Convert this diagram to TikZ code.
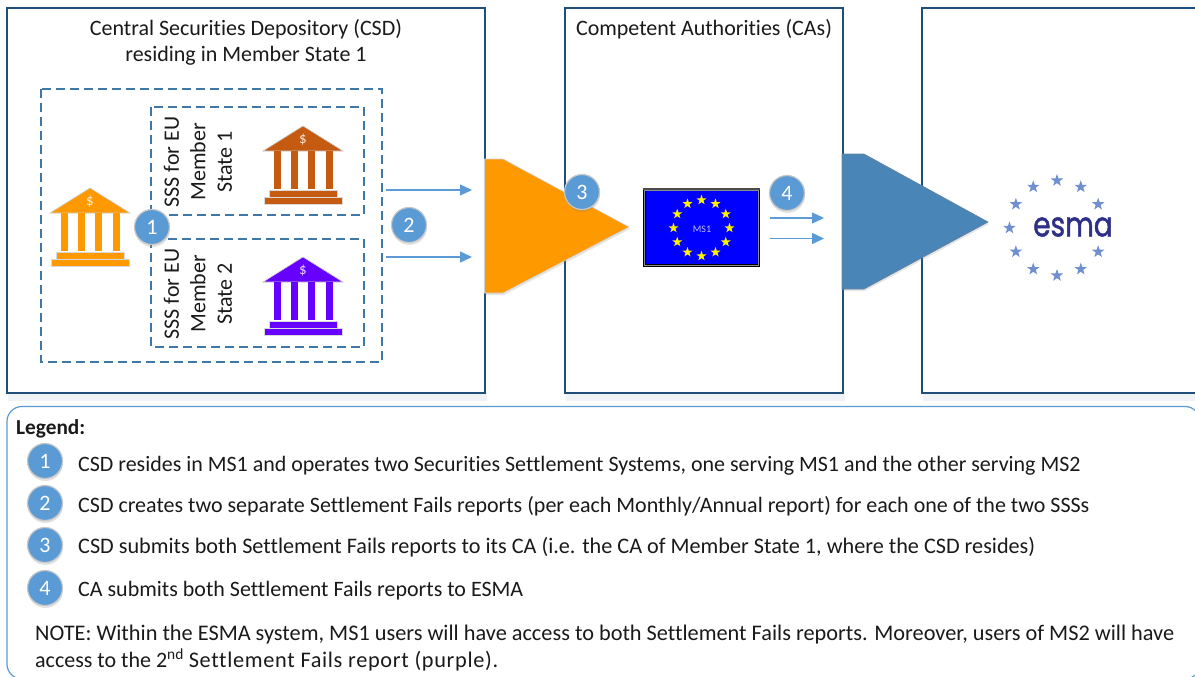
\documentclass[tikz,border=0pt]{standalone}
\usepackage{fontspec}
\usepackage{graphicx}
\setmainfont{Carlito}[Ligatures=NoCommon]
\newfontfamily\esmafont{Poppins}[FakeBold=1.6]
\usetikzlibrary{shapes.geometric,shadows,arrows.meta}
\definecolor{boxblue}{HTML}{1F4E79}
\definecolor{dashblue}{HTML}{3F78A8}
\definecolor{arrowblue}{HTML}{5B9BD5}
\definecolor{bankorange}{HTML}{FF9900}
\definecolor{bankbrown}{HTML}{C55A11}
\definecolor{bankpurple}{HTML}{6600FF}
\definecolor{pentblue}{HTML}{4A85B8}
\definecolor{esmastar}{HTML}{6F8FCF}
\definecolor{esmanavy}{HTML}{2E2F86}
\definecolor{txt}{HTML}{1A1A1A}
\newcommand{\fs}[1]{\fontsize{#1}{#1}\selectfont}
\tikzset{
  x=1pt,y=-1pt,
  outerbox/.style={draw=boxblue,line width=2.4pt,fill=white},
  boxshade/.style={fill=boxblue!7},
  dashbox/.style={draw=dashblue,line width=1.5pt,dash pattern=on 9pt off 5pt},
  report/.style={draw=arrowblue,line width=1.3pt,-{Triangle[length=12pt,width=11pt]}},
  badge/.style={circle,fill=arrowblue,draw=black!22,line width=1.2pt,minimum size=35pt,inner sep=0pt,
    text=white,font=\fs{22},drop shadow={shadow xshift=0.5pt,shadow yshift=-2.5pt,opacity=.22}},
  legtext/.style={anchor=base west,inner sep=0pt,text=txt,font=\fs{22}},
  title/.style={align=center,inner sep=0pt,text=txt,font=\fontsize{22}{26}\selectfont},
  ssslabel/.style={rotate=90,align=center,inner sep=0pt,text=txt,font=\fontsize{22}{26.5}\selectfont},
  flagstar/.style={star,star points=5,star point ratio=2.5,fill=yellow,inner sep=0pt,minimum size=10.5pt},
  estar/.style={star,star points=5,star point ratio=2.5,fill=esmastar,inner sep=0pt,minimum size=13pt},
  pent/.style={drop shadow={shadow xshift=1pt,shadow yshift=-2pt,opacity=.2}},
}
\newcommand{\bankicon}[4]{%
  \begin{scope}[shift={(#2,#3)}]
    \fill[#4,draw=black!20,line width=.6pt] (0,0) -- (40,25) -- (-40,25) -- cycle;
    \foreach \c in {-29,-12,5,23} \fill[#4] (\c,25) rectangle (\c+6.5,63);
    \fill[#4,draw=black!15,line width=.4pt] (-34,64.5) rectangle (34,71);
    \fill[#4,draw=black!15,line width=.4pt] (-39,71.5) rectangle (39,78);
    \node[text=white!85!#4,inner sep=0pt,font=\fs{15}] (#1) at (0,14) {\$};
  \end{scope}}
\begin{document}
\begin{tikzpicture}
\useasboundingbox (0,0) rectangle (1195,677);
\clip (0,0) rectangle (1195,677);
\fill[white] (0,0) rectangle (1195,677);
% soft band under the outer boxes
\fill[boxshade] (8,393) rectangle (487,401);
\fill[boxshade] (566,393) rectangle (845,401);
\fill[boxshade] (923,393) rectangle (1195,401);
% outer boxes
\draw[outerbox] (7,8) rectangle (485,393);
\draw[outerbox] (565,8) rectangle (843,393);
\draw[outerbox] (922,8) rectangle (1205,393);
\node[title] (csdtitle) at (246,42) {Central Securities Depository (CSD)\\residing in Member State 1};
\node[title] (catitle) at (704,29) {Competent Authorities (CAs)};
% dashed boxes
\draw[dashbox] (41,89) rectangle (382,362);
\draw[dashbox] (151,107) rectangle (364,215);
\draw[dashbox] (151,239) rectangle (364,347);
\node[ssslabel] (sss1) at (198,162) {SSS for EU\\Member\\State 1};
\node[ssslabel] (sss2) at (198,294) {SSS for EU\\Member\\State 2};
\bankicon{bankcsd}{90}{188}{bankorange}
\bankicon{bankone}{303}{126}{bankbrown}
\bankicon{banktwo}{303}{257}{bankpurple}
% report arrows
\coordinate (a1s) at (386,190); \coordinate (a1e) at (472,190);
\coordinate (a2s) at (386,257); \coordinate (a2e) at (472,257);
\draw[report] (a1s) -- (a1e);
\draw[report] (a2s) -- (a2e);
\coordinate (a3s) at (770,218); \coordinate (a3e) at (824,218);
\coordinate (a4s) at (770,238.5); \coordinate (a4e) at (824,238.5);
\draw[report] (a3s) -- (a3e);
\draw[report] (a4s) -- (a4e);
% pentagons
\path[pent,fill=bankorange,draw=black!18,line width=.6pt] (484.5,159) -- (503,159) -- (629,227) -- (503,293) -- (484.5,293) -- cycle;
\path[pent,fill=pentblue,draw=boxblue!70,line width=.6pt] (842,154) -- (864,154) -- (988,222) -- (864,289) -- (842,289) -- cycle;
% flag
\fill[black] (643.3,188.3) rectangle (760,266.7);
\fill[black!70] (643.3,188.3) rectangle (760,190);
\draw[black!45,line width=.7pt] (644.7,190.2) rectangle (758.4,265.4);
\node[fill=blue,minimum width=111.6pt,minimum height=73.6pt,inner sep=0pt] (flag) at (701.5,227.5) {};
\node[text=white!75!blue,inner sep=0pt,font=\fs{10}] (ms) at (702,229) {MS1};
\begin{scope}[shift={(701.5,228)}]
  \foreach \a in {0,30,...,330} \node[flagstar] (fs\a) at (\a:28) {};
\end{scope}
% ESMA logo
\begin{scope}[shift={(1057,228)}]
  \foreach \a in {30,60,...,330} \node[estar] (es\a) at (\a:47.5) {};
\end{scope}
\node[inner sep=0pt,text=esmanavy,font=\esmafont\fs{34}] (esma) at (1073,227) {\scalebox{0.82}[1]{esma}};
% badges
\node[badge] (b1) at (152,227) {1};
\node[badge] (b2) at (409,225) {2};
\node[badge] (b3) at (582,192) {3};
\node[badge] (b4) at (787,193) {4};
% legend
\draw[draw=arrowblue,line width=1.2pt,rounded corners=15pt,fill=white] (7,406.5) rectangle (1200,679);
\node[legtext,font=\bfseries\fs{21.3}] (legend) at (16,434) {Legend:};
\node[badge] (l1) at (45,461) {1};
\node[badge] (l2) at (45,503) {2};
\node[badge] (l3) at (45,545) {3};
\node[badge] (l4) at (45,588) {4};
\node[legtext,font=\fs{21.95}] (t1) at (78,471.5) {CSD resides in MS1 and operates two Securities Settlement Systems, one serving MS1 and the other serving MS2};
\node[legtext,font=\fs{22}] (t2) at (78,512.5) {CSD creates two separate Settlement Fails reports (per each Monthly/Annual report) for each one of the two SSSs};
\node[legtext,font=\fs{22.2}] (t3) at (78,553.5) {CSD submits both Settlement Fails reports to its CA (i.e. the CA of Member State 1, where the CSD resides)};
\node[legtext] (t4) at (78,596.5) {CA submits both Settlement Fails reports to ESMA};
\node[legtext,font=\fs{22.3}] (n1) at (35,640) {NOTE: Within the ESMA system, MS1 users will have access to both Settlement Fails reports. Moreover, users of MS2 will have};
\node[legtext,font=\fs{22}] (n2) at (35,667) {access to the 2\textsuperscript{nd} {\addfontfeature{LetterSpace=3}\fs{22.3}Settlement Fails report (purple).}};
\end{tikzpicture}
\end{document}
